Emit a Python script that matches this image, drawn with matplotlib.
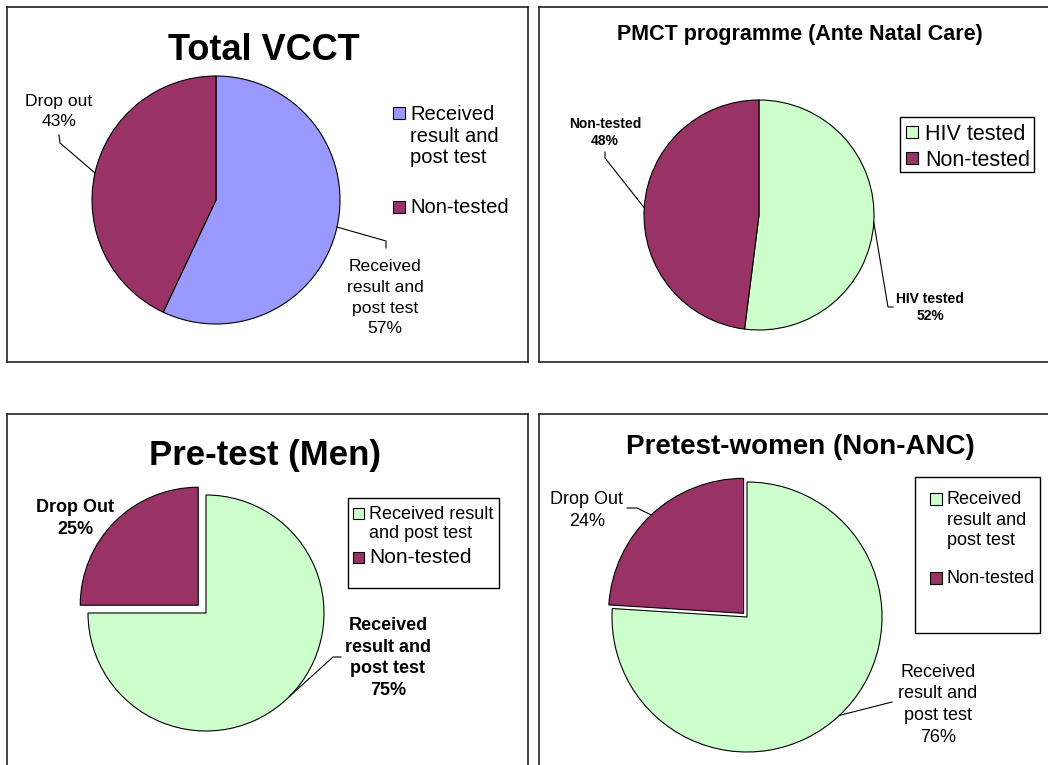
import numpy as np
import matplotlib
matplotlib.use("Agg")
import matplotlib.pyplot as plt
from matplotlib.patches import Rectangle

plt.rcParams['font.family'] = ['Liberation Sans', 'DejaVu Sans']

# Dati dei quattro grafici a torta
vcct_values = [57, 43]
vcct_names = ['Received\nresult and\npost test', 'Drop out']
vcct_legend = ['Received\nresult and\npost test', 'Non-tested']

pmct_values = [52, 48]
pmct_names = ['HIV tested', 'Non-tested']
pmct_legend = ['HIV tested', 'Non-tested']

men_values = [75, 25]
men_names = ['Received\nresult and\npost test', 'Drop Out']
men_legend = ['Received result\nand post test', 'Non-tested']

women_values = [76, 24]
women_names = ['Received\nresult and\npost test', 'Drop Out']
women_legend = ['Received\nresult and\npost test', 'Non-tested']

BLUE = '#9999FF'
MAROON = '#993366'
GREEN = '#CCFFCC'

W, H = 1048, 765

fig = plt.figure(figsize=(W / 100, H / 100), dpi=100)


def px(x, y):
    # coordinate pixel (y verso il basso) -> coordinate dati
    return x, H - y


def make_panel(x0, y0, x1, y1):
    ax = fig.add_axes([x0 / W, 1 - y1 / H, (x1 - x0) / W, (y1 - y0) / H])
    ax.set_xticks([])
    ax.set_yticks([])
    for s in ax.spines.values():
        s.set_linewidth(1.2)
        s.set_color('#222222')
    return ax, (x0, y0, x1, y1)


def draw_pie(ax, box, values, colors, cx, cy, r, explode=None):
    # explode qui e' in pixel (unita' dati dell'asse)
    wedges, _ = ax.pie(values, colors=colors, startangle=90, counterclock=False,
                       center=px(cx, cy), radius=r, explode=explode, frame=True,
                       wedgeprops=dict(edgecolor='black', linewidth=0.8))
    x0, y0, x1, y1 = box
    ax.set_xlim(x0, x1)
    ax.set_ylim(H - y1, H - y0)
    ax.set_aspect('auto')
    return wedges


def edge_point(w):
    a = np.deg2rad((w.theta1 + w.theta2) / 2)
    return w.center[0] + w.r * np.cos(a), w.center[1] + w.r * np.sin(a)


def leader(ax, w, pts):
    ex, ey = edge_point(w)
    xs = [ex] + [p[0] for p in pts]
    ys = [ey] + [H - p[1] for p in pts]
    ax.plot(xs, ys, color='black', lw=0.8)


def lines(ax, x, y_base, text, size, step, ha='center', bold=False):
    # una riga alla volta, cosi' il passo e' esatto
    for i, line in enumerate(text.split('\n')):
        ax.text(x, H - (y_base + i * step), line, ha=ha, va='baseline',
                fontsize=size, fontweight='bold' if bold else 'normal')


def key(ax, sq_x, txt_x, rows, frame=None, sq=12):
    # rows: (top quadrato, baseline testo, testo, colore, fontsize, passo riga)
    for top, base, text, color, size, step in rows:
        ax.add_patch(Rectangle(px(sq_x, top + sq), sq, sq, facecolor=color,
                               edgecolor='black', lw=0.8))
        lines(ax, txt_x, base, text, size, step, ha='left')
    if frame is not None:
        fx0, fy0, fx1, fy1 = frame
        ax.add_patch(Rectangle(px(fx0, fy1), fx1 - fx0, fy1 - fy0, fill=False,
                               edgecolor='black', lw=1.0))


def title(ax, x, y_base, text, size):
    ax.text(x, H - y_base, text, ha='center', va='baseline', fontsize=size,
            fontweight='bold')


# Pannello 1: Total VCCT
ax1, b1 = make_panel(7, 7, 528, 362)
w1 = draw_pie(ax1, b1, vcct_values, [BLUE, MAROON], 216, 200, 124)
title(ax1, 264, 60, 'Total VCCT', 26)
leader(ax1, w1[0], [(386, 241), (386, 248)])
leader(ax1, w1[1], [(60, 143), (59, 135)])
lines(ax1, 385, 271, f'{vcct_names[0]}\n{vcct_values[0]}%', 12.6, 20.8)
lines(ax1, 59, 106, f'{vcct_names[1]}\n{vcct_values[1]}%', 12.6, 20)
key(ax1, 393, 410, [(107, 120, vcct_legend[0], BLUE, 14.5, 21.7),
                    (201, 213, vcct_legend[1], MAROON, 14.5, 21.7)])

# Pannello 2: PMCT
ax2, b2 = make_panel(539, 7, 1049, 362)
w2 = draw_pie(ax2, b2, pmct_values, [GREEN, MAROON], 759, 215, 115)
title(ax2, 800, 40, 'PMCT programme (Ante Natal Care)', 15.5)
leader(ax2, w2[0], [(888, 307), (893, 307)])
leader(ax2, w2[1], [(605, 158), (605, 152)])
lines(ax2, 930, 303, f'{pmct_names[0]}\n{pmct_values[0]}%', 10, 17, bold=True)
lines(ax2, 605, 128, f'{pmct_names[1]}\n{pmct_values[1]}%', 10, 17, bold=True)
key(ax2, 906, 925, [(126, 140, pmct_legend[0], GREEN, 15.5, 22),
                    (152, 166, pmct_legend[1], MAROON, 15.5, 22)],
    frame=(900, 117, 1034, 172))

# Pannello 3: Pre-test (Men)
ax3, b3 = make_panel(7, 414, 528, 767)
w3 = draw_pie(ax3, b3, men_values, [GREEN, MAROON], 206, 613, 118,
              explode=[0, 11])
title(ax3, 265, 465, 'Pre-test (Men)', 25)
leader(ax3, w3[0], [(333, 657), (341, 657)])
lines(ax3, 388, 630, f'{men_names[0]}\n{men_values[0]}%', 13, 21.7, bold=True)
lines(ax3, 75, 512, f'{men_names[1]}\n{men_values[1]}%', 13, 22, bold=True)
key(ax3, 353, 369, [(508, 519, men_legend[0], GREEN, 13, 19),
                    (552, 563, men_legend[1], MAROON, 15, 22)],
    frame=(348, 498, 499, 588), sq=11)

# Pannello 4: Pretest-women (Non-ANC)
ax4, b4 = make_panel(539, 414, 1049, 767)
w4 = draw_pie(ax4, b4, women_values, [GREEN, MAROON], 747, 617, 135,
              explode=[0, 5])
title(ax4, 800, 454, 'Pretest-women (Non-ANC)', 20)
leader(ax4, w4[0], [(892, 702)])
leader(ax4, w4[1], [(637, 508), (627, 508)])
lines(ax4, 938, 677, f'{women_names[0]}\n{women_values[0]}%', 13, 21.5)
lines(ax4, 587, 504, f'{women_names[1]}\n{women_values[1]}%', 13, 22.5)
key(ax4, 930, 947, [(493, 504, women_legend[0], GREEN, 13, 20.7),
                    (572, 583, women_legend[1], MAROON, 13, 20.7)],
    frame=(915, 477, 1040, 633))

fig.savefig('out.png', dpi=100)
